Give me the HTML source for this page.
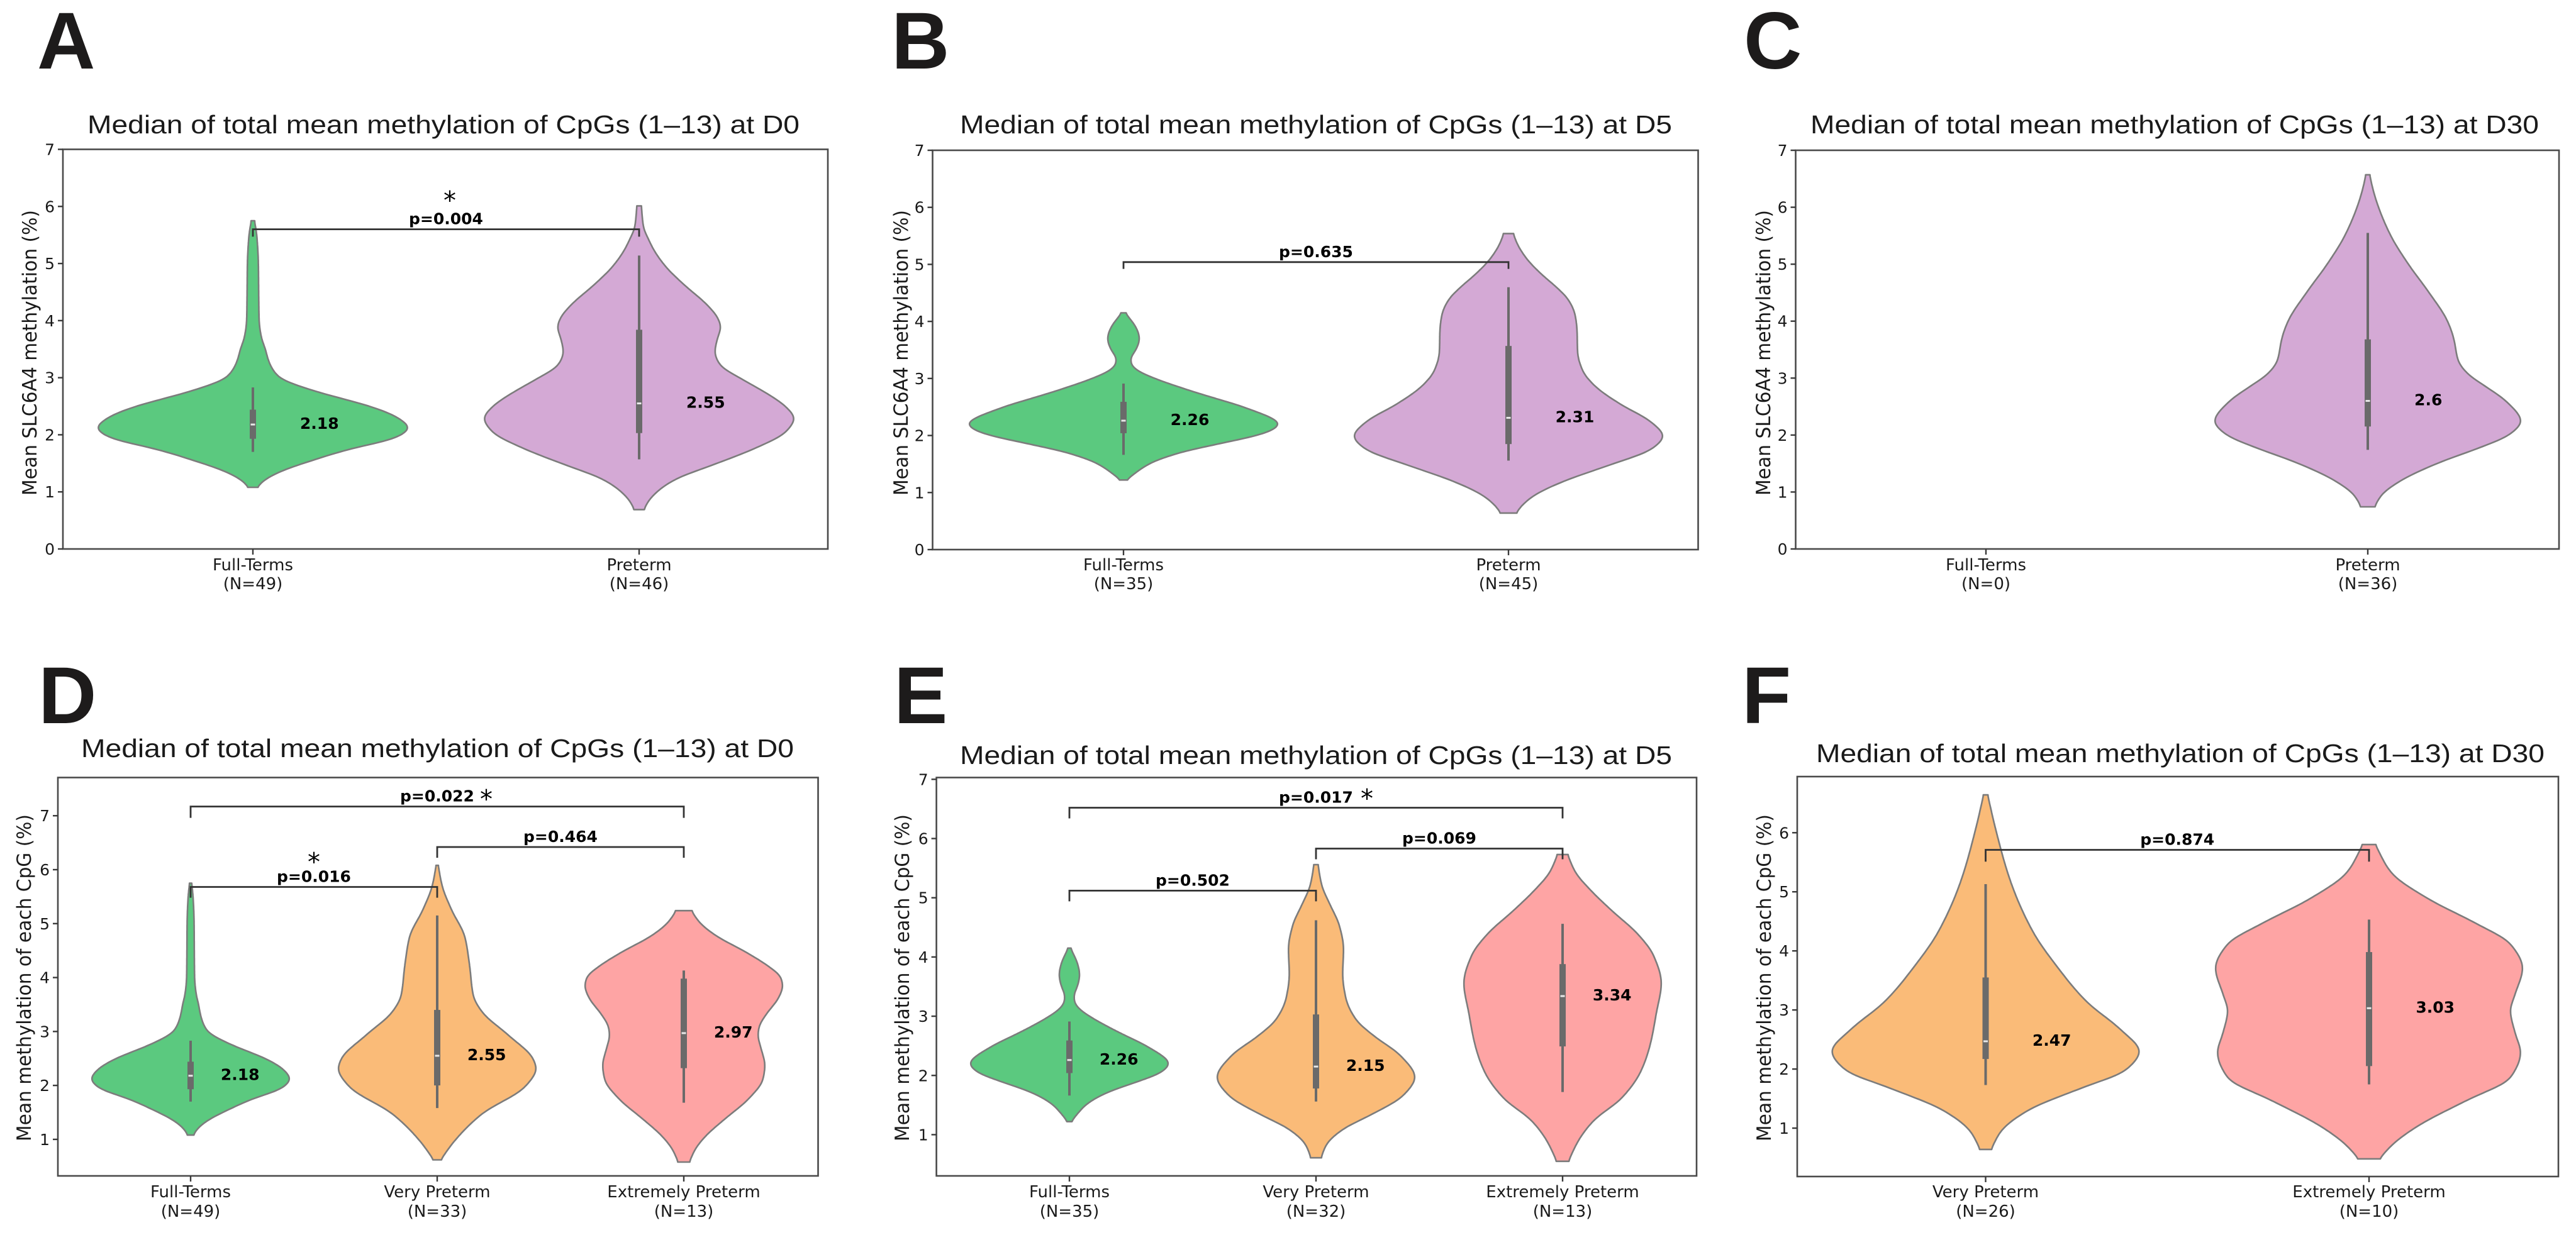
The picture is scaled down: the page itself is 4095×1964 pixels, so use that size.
<!DOCTYPE html>
<html lang="en">
<head>
<meta charset="utf-8">
<title>SLC6A4 methylation violin plots</title>
<style>
html,body{margin:0;padding:0;background:#fff;}
svg{display:block;}
text{font-family:"DejaVu Sans","Liberation Sans",sans-serif;fill:#1a1a1a;}
</style>
</head>
<body>
<svg id="figure" xmlns="http://www.w3.org/2000/svg" width="4095" height="1964" viewBox="0 0 4095 1964"></svg>
<script>
// ---------- Violin density profiles (methylation value, relative density) ----------
const fullTermsD0Values  = [5.75,5.49,5.0,4.5,4.0,3.7,3.5,3.3,3.0,2.85,2.7,2.5,2.3,2.12,1.95,1.75,1.55,1.35,1.2,1.08];
const fullTermsD0Density = [0.01,0.025,0.035,0.037,0.04,0.055,0.08,0.1,0.17,0.3,0.48,0.75,0.93,1.0,0.92,0.62,0.38,0.17,0.07,0.025];
const fullTermsD0Box     = [1.7,1.93,2.18,2.44,2.83];

const pretermD0Values  = [6.01,5.61,5.47,5.25,4.95,4.62,4.29,4.03,3.89,3.67,3.45,3.23,2.97,2.73,2.49,2.29,2.05,1.76,1.43,1.24,1.02,0.84,0.69];
const pretermD0Density = [0.014,0.03,0.053,0.092,0.17,0.293,0.433,0.51,0.526,0.503,0.488,0.519,0.666,0.82,0.946,1.0,0.946,0.744,0.433,0.247,0.123,0.06,0.03];
const pretermD0Box     = [1.57,2.03,2.55,3.84,5.14];

const fullTermsD5Values  = [4.15,4.05,3.9,3.7,3.5,3.35,3.22,3.12,3.0,2.74,2.47,2.2,2.05,1.9,1.7,1.5,1.35,1.22];
const fullTermsD5Density = [0.01,0.04,0.08,0.103,0.08,0.045,0.053,0.1,0.2,0.48,0.8,1.0,0.92,0.69,0.36,0.16,0.08,0.015];
const fullTermsD5Box     = [1.66,2.04,2.26,2.59,2.91];

const pretermD5Values  = [5.54,5.34,5.08,4.82,4.6,4.38,4.12,3.83,3.46,3.13,2.87,2.54,2.25,1.99,1.77,1.48,1.18,0.93,0.74,0.64];
const pretermD5Density = [0.03,0.06,0.123,0.216,0.31,0.387,0.43,0.443,0.446,0.48,0.557,0.728,0.915,1.0,0.93,0.65,0.34,0.154,0.076,0.048];
const pretermD5Box     = [1.56,1.85,2.31,3.57,4.6];

const pretermD30Values  = [6.57,6.3,6.0,5.5,5.0,4.5,4.0,3.7,3.3,3.08,2.85,2.6,2.24,2.0,1.8,1.5,1.2,0.95,0.74];
const pretermD30Density = [0.012,0.035,0.07,0.15,0.265,0.4,0.52,0.56,0.59,0.65,0.77,0.9,1.0,0.92,0.75,0.45,0.215,0.09,0.043];
const pretermD30Box     = [1.74,2.15,2.6,3.68,5.55];

const veryPretermD0Values  = [6.08,5.7,5.26,4.75,4.24,3.66,3.37,2.93,2.49,2.31,1.98,1.47,0.96,0.62];
const veryPretermD0Density = [0.01,0.05,0.144,0.28,0.326,0.365,0.45,0.72,0.97,1.0,0.89,0.45,0.17,0.035];
const veryPretermD0Box     = [1.58,2.0,2.55,3.4,5.15];

const extremePretermD0Values  = [5.24,5.02,4.77,4.48,4.19,4.01,3.84,3.63,3.31,3.08,2.93,2.69,2.38,2.11,1.76,1.37,1.06,0.83,0.58];
const extremePretermD0Density = [0.076,0.16,0.33,0.62,0.87,0.98,1.0,0.96,0.83,0.76,0.75,0.78,0.82,0.8,0.66,0.41,0.22,0.12,0.055];
const extremePretermD0Box     = [1.68,2.32,2.97,3.98,4.13];

const veryPretermD5Values  = [5.56,5.21,4.89,4.53,4.14,3.71,3.31,2.95,2.66,2.34,1.97,1.66,1.34,1.09,0.84,0.61];
const veryPretermD5Density = [0.02,0.058,0.14,0.236,0.278,0.269,0.3,0.4,0.59,0.85,1.0,0.88,0.56,0.27,0.107,0.05];
const veryPretermD5Box     = [1.56,1.78,2.15,3.03,4.62];

const extremePretermD5Values  = [5.73,5.43,5.14,4.78,4.39,4.03,3.56,3.06,2.52,2.06,1.62,1.23,0.91,0.55];
const extremePretermD5Density = [0.05,0.13,0.277,0.5,0.76,0.92,1.0,0.95,0.887,0.79,0.6,0.31,0.164,0.058];
const extremePretermD5Box     = [1.72,2.49,3.34,3.88,4.56];

const veryPretermD30Values  = [6.64,6.04,5.19,4.33,3.73,3.14,2.66,2.3,1.98,1.68,1.3,0.95,0.64];
const veryPretermD30Density = [0.013,0.067,0.16,0.306,0.465,0.656,0.88,1.0,0.91,0.624,0.274,0.1,0.035];
const veryPretermD30Box     = [1.73,2.17,2.47,3.55,5.13];

const extremePretermD30Values  = [5.8,5.32,4.89,4.46,4.12,3.71,3.26,2.99,2.62,2.28,1.85,1.47,1.04,0.74,0.48];
const extremePretermD30Density = [0.04,0.146,0.38,0.7,0.92,1.0,0.95,0.92,0.95,0.987,0.92,0.636,0.32,0.16,0.066];
const extremePretermD30Box     = [1.74,2.05,3.03,3.98,4.53];

// ---------- Categories and sample sizes ----------
const twoGroupLabels = ["Full-Terms","Preterm"];
const threeGroupLabels = ["Full-Terms","Very Preterm","Extremely Preterm"];
const pretermSplitLabels = ["Very Preterm","Extremely Preterm"];
const countsA = [49,46];
const countsB = [35,45];
const countsC = [0,36];
const countsD = [49,33,13];
const countsE = [35,32,13];
const countsF = [26,10];

// ---------- Y tick labels ----------
const ticksTopRow = [0,1,2,3,4,5,6,7];
const ticksD = [1,2,3,4,5,6,7];
const ticksE = [1,2,3,4,5,6,7];
const ticksF = [1,2,3,4,5,6];

// ---------- Significance brackets: [from category, to category, height, drop] and p values ----------
const bracketsA = [[0,1,5.6,0.13]];
const pValuesA = ["p=0.004"];
const bracketsB = [[0,1,5.04,0.12]];
const pValuesB = ["p=0.635"];
const bracketsD = [[0,1,5.68,0.2],[1,2,6.42,0.2],[0,2,7.17,0.21]];
const pValuesD = ["p=0.016","p=0.464","p=0.022"];
const bracketsE = [[0,1,5.12,0.18],[1,2,5.83,0.18],[0,2,6.52,0.18]];
const pValuesE = ["p=0.502","p=0.069","p=0.017"];
const bracketsF = [[0,1,5.71,0.2]];
const pValuesF = ["p=0.874"];

// ---------- Colours ----------
const GREEN = "#5bc97f", PURPLE = "#d4a9d5", ORANGE = "#fabb78", RED = "#fea4a4";
const INK = "#3a3a3a";

const panels = [
 {id:"a",letter:"A",letterX:59,letterY:109,title:"Median of total mean methylation of CpGs (1\u201313) at D0",titleX:705,titleY:212,titleW:1132,
  yLabel:"Mean SLC6A4 methylation (%)",yLabelX:58,yLabelY:561,yLabelW:454,
  frame:{l:100,r:1316,t:237.5,b:873},yDomain:[0,7],xStart:402,xStep:614,
  labels:twoGroupLabels,counts:countsA,yTicks:ticksTopRow,labelRow:[907,937],
  violins:[{v:fullTermsD0Values,d:fullTermsD0Density,b:fullTermsD0Box,c:GREEN},{v:pretermD0Values,d:pretermD0Density,b:pretermD0Box,c:PURPLE}],
  brackets:bracketsA,pValues:pValuesA,stars:[{i:0,dx:6,dy:-53}]},
 {id:"b",letter:"B",letterX:1417,letterY:109,title:"Median of total mean methylation of CpGs (1\u201313) at D5",titleX:2092,titleY:212,titleW:1132,
  yLabel:"Mean SLC6A4 methylation (%)",yLabelX:1443,yLabelY:561,yLabelW:454,
  frame:{l:1482.5,r:2699.5,t:239,b:874},yDomain:[0,7],xStart:1786,xStep:612,
  labels:twoGroupLabels,counts:countsB,yTicks:ticksTopRow,labelRow:[907,937],
  violins:[{v:fullTermsD5Values,d:fullTermsD5Density,b:fullTermsD5Box,c:GREEN},{v:pretermD5Values,d:pretermD5Density,b:pretermD5Box,c:PURPLE}],
  brackets:bracketsB,pValues:pValuesB,stars:[]},
 {id:"c",letter:"C",letterX:2772,letterY:109,title:"Median of total mean methylation of CpGs (1\u201313) at D30",titleX:3457,titleY:212,titleW:1158,
  yLabel:"Mean SLC6A4 methylation (%)",yLabelX:2814,yLabelY:561,yLabelW:454,
  frame:{l:2854.5,r:4068,t:239,b:873},yDomain:[0,7],xStart:3157,xStep:607,
  labels:twoGroupLabels,counts:countsC,yTicks:ticksTopRow,labelRow:[907,937],
  violins:[null,{v:pretermD30Values,d:pretermD30Density,b:pretermD30Box,c:PURPLE}],
  brackets:[],pValues:[],stars:[]},
 {id:"d",letter:"D",letterX:61,letterY:1150,title:"Median of total mean methylation of CpGs (1\u201313) at D0",titleX:695.5,titleY:1204,titleW:1133,
  yLabel:"Mean methylation of each CpG (%)",yLabelX:49,yLabelY:1555,yLabelW:520,
  frame:{l:92,r:1300.5,t:1236.5,b:1870},yDomain:[0.323,7.708],xStart:303,xStep:392,
  labels:threeGroupLabels,counts:countsD,yTicks:ticksD,labelRow:[1904,1935],
  violins:[{v:fullTermsD0Values,d:fullTermsD0Density,b:fullTermsD0Box,c:GREEN},{v:veryPretermD0Values,d:veryPretermD0Density,b:veryPretermD0Box,c:ORANGE},{v:extremePretermD0Values,d:extremePretermD0Density,b:extremePretermD0Box,c:RED}],
  brackets:bracketsD,pValues:pValuesD,stars:[{i:0,dx:0,dy:-47},{i:2,dx:78,dy:-19}]},
 {id:"e",letter:"E",letterX:1421,letterY:1150,title:"Median of total mean methylation of CpGs (1\u201313) at D5",titleX:2092,titleY:1215,titleW:1132,
  yLabel:"Mean methylation of each CpG (%)",yLabelX:1445,yLabelY:1555,yLabelW:520,
  frame:{l:1488.6,r:2697,t:1236.5,b:1870},yDomain:[0.304,7.03],xStart:1700,xStep:392,
  labels:threeGroupLabels,counts:countsE,yTicks:ticksE,labelRow:[1904,1935],
  violins:[{v:fullTermsD5Values,d:fullTermsD5Density,b:fullTermsD5Box,c:GREEN},{v:veryPretermD5Values,d:veryPretermD5Density,b:veryPretermD5Box,c:ORANGE},{v:extremePretermD5Values,d:extremePretermD5Density,b:extremePretermD5Box,c:RED}],
  brackets:bracketsE,pValues:pValuesE,stars:[{i:2,dx:81,dy:-22}]},
 {id:"f",letter:"F",letterX:2769,letterY:1150,title:"Median of total mean methylation of CpGs (1\u201313) at D30",titleX:3466,titleY:1212,titleW:1158,
  yLabel:"Mean methylation of each CpG (%)",yLabelX:2815,yLabelY:1555,yLabelW:520,
  frame:{l:2857,r:4067,t:1235,b:1871},yDomain:[0.181,6.95],xStart:3156.5,xStep:609.5,
  labels:pretermSplitLabels,counts:countsF,yTicks:ticksF,labelRow:[1904,1935],
  violins:[{v:veryPretermD30Values,d:veryPretermD30Density,b:veryPretermD30Box,c:ORANGE},{v:extremePretermD30Values,d:extremePretermD30Density,b:extremePretermD30Box,c:RED}],
  brackets:bracketsF,pValues:pValuesF,stars:[]}
];

const SVGNS = "http://www.w3.org/2000/svg";
const root = document.getElementById("figure");
function mk(parent, tag, attrs, txt){
  const n = document.createElementNS(SVGNS, tag);
  for (const k in attrs) n.setAttribute(k, attrs[k]);
  if (txt !== undefined) n.textContent = txt;
  parent.appendChild(n);
  return n;
}

// monotone cubic interpolation of the density profile
function profile(values, density){
  const pts = values.map((v,i)=>[v,density[i]]).sort((a,b)=>a[0]-b[0]);
  const xs = pts.map(p=>p[0]), ys = pts.map(p=>p[1]), n = xs.length;
  const h = [], s = [];
  for (let i=0;i<n-1;i++){ h[i]=xs[i+1]-xs[i]; s[i]=(ys[i+1]-ys[i])/h[i]; }
  const m = new Array(n).fill(0);
  m[0]=s[0]; m[n-1]=s[n-2];
  for (let i=1;i<n-1;i++){
    if (s[i-1]*s[i]<=0) m[i]=0;
    else { const w1=2*h[i]+h[i-1], w2=h[i]+2*h[i-1]; m[i]=(w1+w2)/(w1/s[i-1]+w2/s[i]); }
  }
  return function(x){
    let i=0; while(i<n-2 && x>xs[i+1]) i++;
    const t=(x-xs[i])/h[i], t2=t*t, t3=t2*t;
    return (2*t3-3*t2+1)*ys[i]+(t3-2*t2+t)*h[i]*m[i]+(-2*t3+3*t2)*ys[i+1]+(t3-t2)*h[i]*m[i+1];
  };
}

// samples the profile and applies a light gaussian blur so the outline has no kinks
function smoothSamples(values, density, steps){
  const f = profile(values, density);
  const lo = Math.min.apply(null,values), hi = Math.max.apply(null,values);
  const dv = (hi-lo)/steps, sigma = 0.055, raw = [];
  for (let k=0;k<=steps;k++) raw.push(Math.max(0,f(lo+k*dv)));
  const radius = Math.ceil(3*sigma/dv), out = [];
  for (let k=0;k<=steps;k++){
    let sum=0, wt=0;
    for (let j=-radius;j<=radius;j++){
      const q=Math.min(steps,Math.max(0,k+j)), g=Math.exp(-0.5*Math.pow(j*dv/sigma,2));
      sum+=raw[q]*g; wt+=g;
    }
    out.push({v:lo+k*dv,w:sum/wt});
  }
  const peakRaw = Math.max.apply(null,raw), peakOut = Math.max.apply(null,out.map(o=>o.w));
  out.forEach(o=>{o.w*=peakRaw/peakOut;});
  return out;
}

panels.forEach(function(p){
  const g = mk(root,"g",{});
  
  

  const yScale = v => p.frame.b - (v-p.yDomain[0])/(p.yDomain[1]-p.yDomain[0])*(p.frame.b-p.frame.t);
  const xScale = i => p.xStart + i*p.xStep;
  const halfW = 0.4*p.xStep;

  const letter = mk(g,"text",{x:p.letterX,y:p.letterY,"font-size":128,"font-weight":700,style:'font-family:"Liberation Sans",sans-serif;fill:#1d1b1b'},p.letter);
  
  

  const title = mk(g,"text",{x:p.titleX,y:p.titleY,"font-size":41,"text-anchor":"middle",textLength:p.titleW,lengthAdjust:"spacingAndGlyphs",style:'font-family:"Liberation Sans",sans-serif'},p.title);
  
  

  const yl = mk(g,"text",{transform:"translate("+p.yLabelX+","+p.yLabelY+") rotate(-90)","font-size":31,"text-anchor":"middle",textLength:p.yLabelW,lengthAdjust:"spacingAndGlyphs"},p.yLabel);
  
  

  // violins
  p.violins.forEach(function(vn,i){
    if(!vn) return;
    const cx = xScale(i), right = [], left = [];
    smoothSamples(vn.v, vn.d, 220).forEach(function(s){
      const w = s.w*halfW, y = yScale(s.v);
      right.push((cx+w).toFixed(1)+","+y.toFixed(1));
      left.unshift((cx-w).toFixed(1)+","+y.toFixed(1));
    });
    const body = mk(g,"path",{d:"M"+right.concat(left).join("L")+"Z",fill:vn.c,stroke:"#7c7c7c","stroke-width":2.6,"stroke-linejoin":"round"});
    
    

    const whisker = mk(g,"line",{x1:cx,x2:cx,y1:yScale(vn.b[0]),y2:yScale(vn.b[4]),stroke:"#6a6a6a","stroke-width":4});
    
    

    const box = mk(g,"rect",{x:cx-5,width:10,y:yScale(vn.b[3]),height:yScale(vn.b[1])-yScale(vn.b[3]),fill:"#6a6a6a"});
    
    

    const med = mk(g,"rect",{x:cx-3.5,width:7,y:yScale(vn.b[2])-1.5,height:3,fill:"#e8e8e8"});
    
    

    const ml = mk(g,"text",{x:cx+0.122*p.xStep,y:yScale(vn.b[2])+7,"font-size":25,"font-weight":700,style:"fill:#000"},String(vn.b[2]));
    
    
  });

  // frame
  const frame = mk(g,"rect",{x:p.frame.l,y:p.frame.t,width:p.frame.r-p.frame.l,height:p.frame.b-p.frame.t,fill:"none",stroke:"#4a4a4a","stroke-width":2.6});
  
  

  // y ticks
  p.yTicks.forEach(function(t){
    const y = yScale(t);
    const tm = mk(g,"line",{x1:p.frame.l-8,x2:p.frame.l,y1:y,y2:y,stroke:INK,"stroke-width":2.4});
    
    
    const tl = mk(g,"text",{x:p.frame.l-13,y:y+9,"font-size":25,"text-anchor":"end"},String(t));
    
    
  });

  // x ticks
  p.labels.forEach(function(lab,i){
    const x = xScale(i);
    const tm = mk(g,"line",{x1:x,x2:x,y1:p.frame.b,y2:p.frame.b+9,stroke:INK,"stroke-width":2.4});
    
    
    const tl = mk(g,"text",{x:x,y:p.labelRow[0],"font-size":26,"text-anchor":"middle"},lab);
    
    
    const tn = mk(g,"text",{x:x,y:p.labelRow[1],"font-size":26,"text-anchor":"middle"},"(N="+p.counts[i]+")");
    
    
  });

  // brackets
  p.brackets.forEach(function(b,i){
    const x1 = xScale(b[0]), x2 = xScale(b[1]), y = yScale(b[2]), yd = yScale(b[2]-b[3]);
    const br = mk(g,"path",{d:"M"+x1+","+yd+"V"+y+"H"+x2+"V"+yd,fill:"none",stroke:"#333","stroke-width":2.8});
    
    
    const pt = mk(g,"text",{x:(x1+x2)/2,y:y-8,"font-size":25,"font-weight":700,"text-anchor":"middle",style:"fill:#000"},p.pValues[i]);
    
    
    p.stars.filter(s=>s.i===i).forEach(function(s){
      const st = mk(g,"text",{x:(x1+x2)/2+s.dx,y:y+s.dy+21,"font-size":40,"text-anchor":"middle",style:"fill:#000"},"*");
      
      
    });
  });
});
</script>
</body>
</html>
